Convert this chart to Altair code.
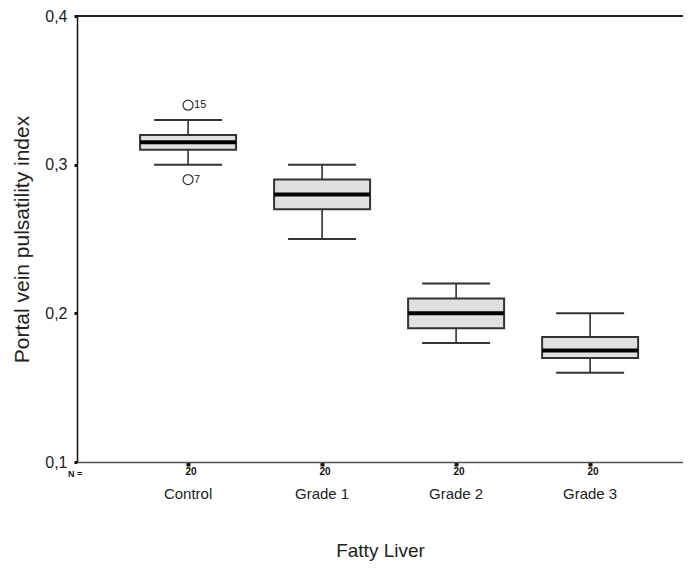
import altair as alt
import pandas as pd

cats = ["Control", "Grade 1", "Grade 2", "Grade 3"]
whisk_low = [0.30, 0.25, 0.18, 0.16]
q1 = [0.31, 0.27, 0.19, 0.17]
median = [0.315, 0.28, 0.20, 0.175]
q3 = [0.32, 0.29, 0.21, 0.184]
whisk_high = [0.33, 0.30, 0.22, 0.20]
n_counts = ["20", "20", "20", "20"]

out_cat = ["Control", "Control"]
out_val = [0.34, 0.29]
out_lab = ["15", "7"]

df = pd.DataFrame({"cat": cats, "lo": whisk_low, "q1": q1, "med": median,
                   "q3": q3, "hi": whisk_high, "n": n_counts})
dfo = pd.DataFrame({"cat": out_cat, "v": out_val, "lab": out_lab})

W, H = 606, 446
FONT = "Liberation Sans"
TXT = "#222222"

xscale = alt.Scale(domain=cats, paddingInner=0, paddingOuter=0.261, align=0.63)
yscale = alt.Scale(domain=[0.1, 0.4], nice=False, zero=False)

xax = alt.Axis(title="Fatty Liver", labelAngle=0, labelFont=FONT, labelFontSize=15,
               labelColor=TXT, labelPadding=20, titleFont=FONT, titleFontSize=19,
               titleFontWeight="normal", titleColor=TXT, titlePadding=40,
               domainColor="#555555", domainWidth=1.5, tickColor="#111111",
               tickSize=4, tickWidth=4)
yax = alt.Axis(title="Portal vein pulsatility index", values=[0.1, 0.2, 0.3, 0.4],
               labelExpr="replace(format(datum.value, '.1f'), '.', ',')",
               labelFont=FONT, labelFontSize=16, labelColor=TXT, labelPadding=7,
               titleFont=FONT, titleFontSize=21, titleFontWeight="normal",
               titleColor=TXT, titlePadding=12, grid=False,
               domainColor="#111111", domainWidth=1.5, tickColor="#111111",
               tickSize=3, tickWidth=3)

base = alt.Chart(df)
x = alt.X("cat:N", scale=xscale, axis=xax, sort=cats)

whisk = base.mark_rule(color="#222222", strokeWidth=1.5).encode(
    x=x, y=alt.Y("lo:Q", scale=yscale, axis=yax), y2="hi:Q")
box = base.mark_bar(size=96, color="#e0e0e0", stroke="#333333", strokeWidth=2,
                    opacity=1).encode(x=x, y="q1:Q", y2="q3:Q")
capl = base.mark_tick(size=68, thickness=2, color="#333333", opacity=1).encode(x=x, y="lo:Q")
caph = base.mark_tick(size=68, thickness=2, color="#333333", opacity=1).encode(x=x, y="hi:Q")
med = base.mark_tick(size=96, thickness=4, color="#000000", opacity=1).encode(x=x, y="med:Q")
ntext = base.mark_text(font=FONT, fontSize=10, fontWeight="bold", color="#111111", dx=3,
                       baseline="middle").encode(x=x, y=alt.value(H + 10), text="n:N")

ob = alt.Chart(dfo)
pts = ob.mark_point(shape="circle", size=100, filled=False, color="#333333",
                    strokeWidth=1.2, opacity=1).encode(
    x=alt.X("cat:N", scale=xscale, sort=cats), y=alt.Y("v:Q", scale=yscale))
plab = ob.mark_text(font=FONT, fontSize=11, color=TXT, align="left", dx=6,
                    baseline="middle").encode(x=alt.X("cat:N", scale=xscale, sort=cats),
                                              y=alt.Y("v:Q", scale=yscale), text="lab:N")

top = alt.Chart(pd.DataFrame({"v": [0.4]})).mark_rule(color="#222222", strokeWidth=2).encode(
    y=alt.Y("v:Q", scale=yscale), x=alt.value(0), x2=alt.value(W))

nlab = alt.Chart(pd.DataFrame({"t": ["N ="]})).mark_text(
    font=FONT, fontSize=9, fontWeight="bold", color="#111111", align="left",
    baseline="middle"
).encode(x=alt.value(-9), y=alt.value(H + 12), text="t:N")

chart = alt.layer(whisk, box, capl, caph, med, pts, plab, top, ntext, nlab).properties(
    width=W, height=H,
    autosize=alt.AutoSizeParams(type="none"),
    padding={"left": 69, "top": 8, "right": 0, "bottom": 100},
).configure_view(stroke=None).configure(background="white")

chart.save("out.html", embed_options={"renderer": "svg", "actions": False})
